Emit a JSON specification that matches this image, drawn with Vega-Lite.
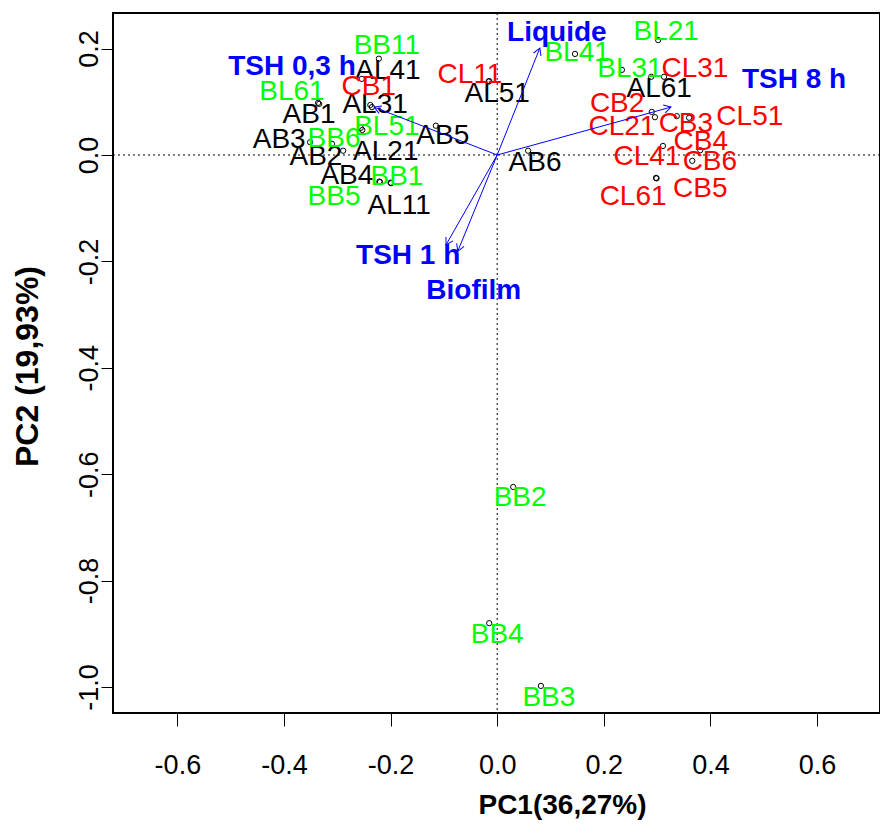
{
  "$schema": "https://vega.github.io/schema/vega-lite/v6.json",
  "width": 767,
  "height": 700,
  "autosize": {"type": "none"},
  "padding": {"left": 113, "top": 13, "right": 0, "bottom": 117},
  "background": "white",
  "config": {
    "view": {"stroke": "black", "strokeWidth": 2},
    "font": "Liberation Sans",
    "axis": {"grid": false, "domain": false, "tickColor": "black", "tickWidth": 1, "labelColor": "black", "titleColor": "black", "labelFont": "Liberation Sans", "titleFont": "Liberation Sans"}
  },
  "datasets": {
    "samples": [
      {"name": "AB1", "group": "A", "x": -0.334, "y": 0.096, "lx": -0.353, "ly": 0.075},
      {"name": "AB2", "group": "A", "x": -0.289, "y": 0.008, "lx": -0.340, "ly": -0.004},
      {"name": "AB3", "group": "A", "x": -0.351, "y": 0.024, "lx": -0.409, "ly": 0.028},
      {"name": "AB4", "group": "A", "x": -0.199, "y": -0.053, "lx": -0.282, "ly": -0.040},
      {"name": "AB5", "group": "A", "x": -0.115, "y": 0.055, "lx": -0.102, "ly": 0.036},
      {"name": "AB6", "group": "A", "x": 0.058, "y": 0.008, "lx": 0.071, "ly": -0.015},
      {"name": "AL11", "group": "A", "x": -0.200, "y": -0.052, "lx": -0.184, "ly": -0.096},
      {"name": "AL21", "group": "A", "x": -0.253, "y": 0.047, "lx": -0.209, "ly": 0.006},
      {"name": "AL31", "group": "A", "x": -0.235, "y": 0.090, "lx": -0.229, "ly": 0.094},
      {"name": "AL41", "group": "A", "x": -0.254, "y": 0.143, "lx": -0.205, "ly": 0.158},
      {"name": "AL51", "group": "A", "x": -0.016, "y": 0.138, "lx": 0.000, "ly": 0.115},
      {"name": "AL61", "group": "A", "x": 0.289, "y": 0.147, "lx": 0.304, "ly": 0.124},
      {"name": "BB1", "group": "B", "x": -0.220, "y": -0.051, "lx": -0.188, "ly": -0.041},
      {"name": "BB2", "group": "B", "x": 0.030, "y": -0.624, "lx": 0.043, "ly": -0.645},
      {"name": "BB3", "group": "B", "x": 0.082, "y": -0.998, "lx": 0.097, "ly": -1.021},
      {"name": "BB4", "group": "B", "x": -0.015, "y": -0.880, "lx": 0.000, "ly": -0.902},
      {"name": "BB5", "group": "B", "x": -0.221, "y": -0.050, "lx": -0.306, "ly": -0.079},
      {"name": "BB6", "group": "B", "x": -0.310, "y": 0.021, "lx": -0.306, "ly": 0.030},
      {"name": "BB11", "group": "B", "x": -0.222, "y": 0.181, "lx": -0.207, "ly": 0.205},
      {"name": "BL21", "group": "B", "x": 0.302, "y": 0.216, "lx": 0.317, "ly": 0.231},
      {"name": "BL31", "group": "B", "x": 0.234, "y": 0.160, "lx": 0.249, "ly": 0.162},
      {"name": "BL41", "group": "B", "x": 0.146, "y": 0.190, "lx": 0.150, "ly": 0.192},
      {"name": "BL51", "group": "B", "x": -0.256, "y": 0.051, "lx": -0.207, "ly": 0.053},
      {"name": "BL61", "group": "B", "x": -0.336, "y": 0.098, "lx": -0.385, "ly": 0.118},
      {"name": "CB1", "group": "C", "x": -0.238, "y": 0.094, "lx": -0.241, "ly": 0.128},
      {"name": "CB2", "group": "C", "x": 0.290, "y": 0.081, "lx": 0.225, "ly": 0.096},
      {"name": "CB3", "group": "C", "x": 0.337, "y": 0.073, "lx": 0.354, "ly": 0.058},
      {"name": "CB4", "group": "C", "x": 0.381, "y": 0.009, "lx": 0.382, "ly": 0.024},
      {"name": "CB5", "group": "C", "x": 0.299, "y": -0.044, "lx": 0.381, "ly": -0.064},
      {"name": "CB6", "group": "C", "x": 0.366, "y": -0.011, "lx": 0.399, "ly": -0.013},
      {"name": "CL11", "group": "C", "x": -0.015, "y": 0.139, "lx": -0.051, "ly": 0.150},
      {"name": "CL21", "group": "C", "x": 0.296, "y": 0.071, "lx": 0.234, "ly": 0.053},
      {"name": "CL31", "group": "C", "x": 0.313, "y": 0.147, "lx": 0.371, "ly": 0.162},
      {"name": "CL41", "group": "C", "x": 0.311, "y": 0.017, "lx": 0.281, "ly": -0.004},
      {"name": "CL51", "group": "C", "x": 0.360, "y": 0.070, "lx": 0.474, "ly": 0.071},
      {"name": "CL61", "group": "C", "x": 0.298, "y": -0.043, "lx": 0.255, "ly": -0.079}
    ],
    "vectors": [
      {"name": "TSH 0,3 h", "tx": -0.231, "ty": 0.090, "lx": -0.385, "ly": 0.165},
      {"name": "Liquide", "tx": 0.080, "ty": 0.201, "lx": 0.112, "ly": 0.229},
      {"name": "TSH 8 h", "tx": 0.326, "ty": 0.090, "lx": 0.557, "ly": 0.141},
      {"name": "TSH 1 h", "tx": -0.096, "ty": -0.169, "lx": -0.167, "ly": -0.190},
      {"name": "Biofilm", "tx": -0.074, "ty": -0.181, "lx": -0.044, "ly": -0.256}
    ],
    "origin": [{"o": 0}]
  },
  "layer": [
    {
      "data": {"name": "samples"},
      "mark": {"type": "point", "shape": "circle", "filled": false, "stroke": "black", "strokeWidth": 1, "size": 28, "opacity": 1},
      "encoding": {
        "x": {"field": "x", "type": "quantitative",
          "scale": {"domain": [-0.7208, 0.7182], "nice": false, "zero": false},
          "axis": {"values": [-0.6, -0.4, -0.2, 0, 0.2, 0.4, 0.6], "format": ".1f", "labelExpr": "replace(datum.label, '−', '-')",
            "tickSize": 13, "labelFontSize": 27, "labelPadding": 47, "labelBaseline": "alphabetic",
            "title": "PC1(36,27%)", "titleFontSize": 28, "titleFontWeight": "bold", "titleX": 449, "titleY": 100, "titleAlign": "center", "titleBaseline": "alphabetic"}},
        "y": {"field": "y", "type": "quantitative",
          "scale": {"domain": [-1.0489, 0.2669], "nice": false, "zero": false},
          "axis": {"values": [-1, -0.8, -0.6, -0.4, -0.2, 0, 0.2], "format": ".1f", "labelExpr": "replace(datum.label, '−', '-')",
            "tickSize": 12, "labelFontSize": 27, "labelAngle": -90, "labelAlign": "center", "labelBaseline": "alphabetic", "labelPadding": 4,
            "title": "PC2 (19,93%)", "titleFontSize": 32, "titleFontWeight": "bold", "titleAngle": -90, "titleX": -76, "titleY": 353, "titleAlign": "center", "titleBaseline": "alphabetic"}}
      }
    },
    {
      "data": {"name": "origin"},
      "mark": {"type": "rule", "color": "black", "strokeWidth": 1, "strokeDash": [2, 3]},
      "encoding": {"y": {"field": "o", "type": "quantitative"}}
    },
    {
      "data": {"name": "origin"},
      "mark": {"type": "rule", "color": "black", "strokeWidth": 1, "strokeDash": [2, 3]},
      "encoding": {"x": {"field": "o", "type": "quantitative"}}
    },
    {
      "data": {"name": "samples"},
      "mark": {"type": "text", "fontSize": 28, "font": "Liberation Sans", "align": "center", "baseline": "middle"},
      "encoding": {
        "x": {"field": "lx", "type": "quantitative"},
        "y": {"field": "ly", "type": "quantitative"},
        "text": {"field": "name"},
        "color": {"field": "group", "type": "nominal", "scale": {"domain": ["A", "B", "C"], "range": ["#000000", "#00FF00", "#FF0000"]}, "legend": null}
      }
    },
    {
      "data": {"name": "vectors"},
      "transform": [{"calculate": "0", "as": "o"}],
      "mark": {"type": "rule", "color": "#0000FF", "strokeWidth": 1},
      "encoding": {
        "x": {"field": "o", "type": "quantitative"},
        "y": {"field": "o", "type": "quantitative"},
        "x2": {"field": "tx"},
        "y2": {"field": "ty"}
      }
    },
    {
      "data": {"name": "vectors"},
      "transform": [{"calculate": "atan2(datum.tx, datum.ty) * 180 / PI", "as": "ang"}],
      "mark": {"type": "point", "shape": "M -0.5 0.866 L 0 0 L 0.5 0.866", "filled": false, "stroke": "#0000FF", "strokeWidth": 1, "size": 256, "opacity": 1},
      "encoding": {
        "x": {"field": "tx", "type": "quantitative"},
        "y": {"field": "ty", "type": "quantitative"},
        "angle": {"field": "ang", "type": "quantitative", "scale": null}
      }
    },
    {
      "data": {"name": "vectors"},
      "mark": {"type": "text", "fontSize": 28, "fontWeight": "bold", "font": "Liberation Sans", "color": "#0000FF", "align": "center", "baseline": "middle"},
      "encoding": {
        "x": {"field": "lx", "type": "quantitative"},
        "y": {"field": "ly", "type": "quantitative"},
        "text": {"field": "name"}
      }
    }
  ]
}
